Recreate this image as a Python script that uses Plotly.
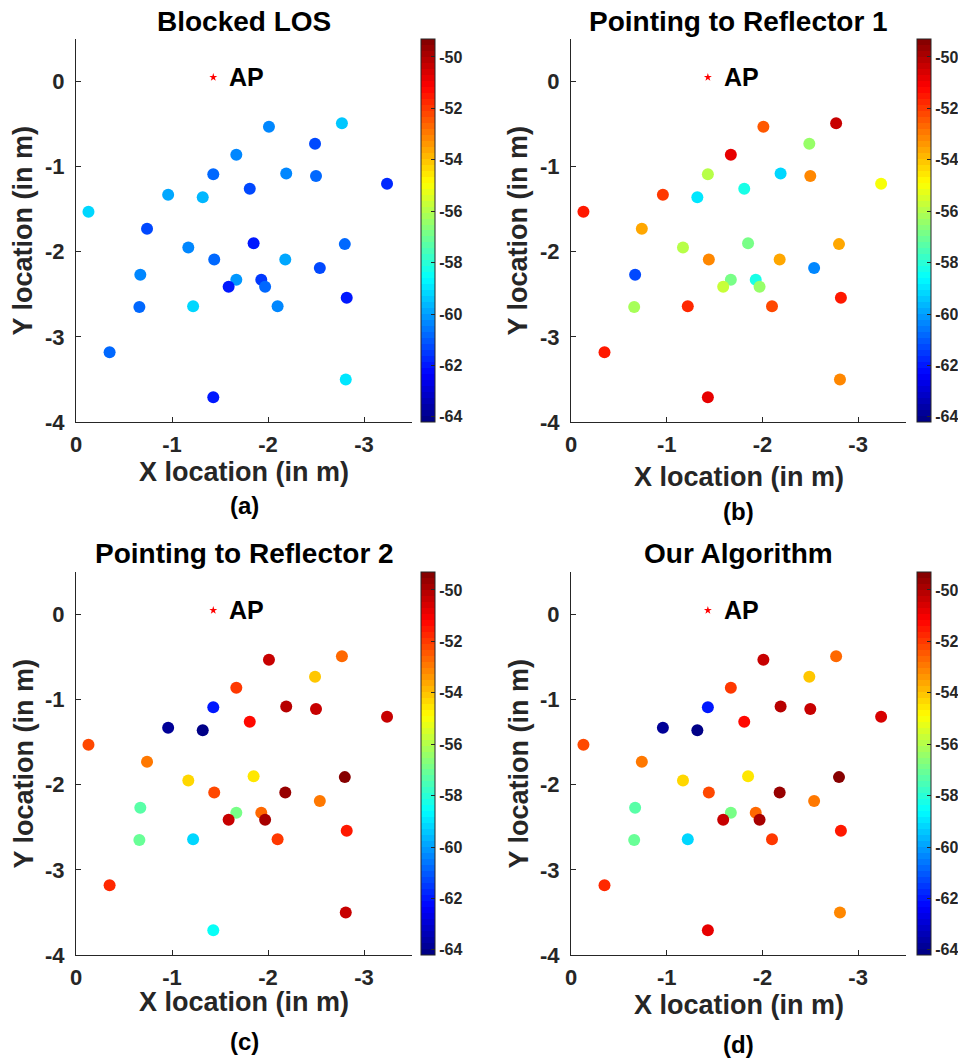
import plotly.graph_objects as go

# ---------------- data ----------------
x_loc = [-2.01, -2.77, -2.49, -1.67, -1.43, -2.19, -2.50, -3.24, -1.81, -0.96,
         -1.32, -0.13, -0.74, -1.85, -2.80, -1.17, -1.44, -2.18, -2.54, -0.67,
         -1.67, -1.93, -1.59, -1.97, -0.66, -1.22, -2.10, -2.82, -0.35, -2.81, -1.43]
y_loc = [-0.53, -0.49, -0.73, -0.86, -1.09, -1.08, -1.11, -1.20, -1.26, -1.33,
         -1.36, -1.53, -1.73, -1.90, -1.91, -1.95, -2.09, -2.09, -2.19, -2.27,
         -2.33, -2.33, -2.41, -2.41, -2.65, -2.64, -2.64, -2.54, -3.18, -3.50, -3.71]

rss_blocked = [-60.3, -59.4, -61.4, -60.3, -60.8, -60.3, -60.8, -61.7, -61.2, -59.8,
               -59.7, -59.1, -61.4, -62.0, -60.8, -60.3, -60.9, -59.8, -61.2, -60.4,
               -60.2, -61.5, -62.1, -60.8, -60.8, -59.2, -60.3, -62.0, -60.9, -58.9, -62.0]
rss_reflector1 = [-52.5, -50.4, -56.4, -50.8, -55.9, -59.3, -53.1, -55.1, -58.2, -52.0,
                  -58.9, -51.5, -53.6, -56.9, -53.6, -55.9, -53.1, -53.5, -60.3, -61.4,
                  -56.9, -58.2, -55.6, -56.4, -56.1, -51.7, -52.3, -51.4, -51.4, -53.2, -50.8]
rss_reflector2 = [-50.4, -52.6, -54.1, -52.0, -62.1, -50.0, -50.3, -50.4, -51.2, -63.9,
                  -64.1, -52.1, -52.8, -54.5, -49.4, -54.2, -52.3, -49.6, -52.8, -57.4,
                  -56.8, -52.6, -50.3, -49.8, -57.0, -59.1, -52.0, -51.4, -51.7, -50.3, -58.5]
rss_ours = [-50.4, -52.6, -54.1, -52.0, -62.1, -50.0, -50.3, -50.5, -51.2, -63.9,
            -64.1, -52.1, -52.8, -54.6, -49.4, -54.4, -52.3, -49.6, -52.8, -57.4,
            -56.8, -52.6, -50.3, -49.8, -57.0, -59.1, -52.0, -51.4, -51.7, -53.2, -50.8]

ap_x = [-1.43]
ap_y = [0.05]

panel_titles = ["Blocked LOS", "Pointing to Reflector 1", "Pointing to Reflector 2", "Our Algorithm"]
panel_tags = ["(a)", "(b)", "(c)", "(d)"]
panel_values = [rss_blocked, rss_reflector1, rss_reflector2, rss_ours]

x_ticks = [0, -1, -2, -3]
y_ticks = [0, -1, -2, -3, -4]
cbar_ticks = [-64, -62, -60, -58, -56, -54, -52, -50]
c_min, c_max = -64.2, -49.3

# ---------------- style ----------------
OFF = 8                      # default page body margin of the browser
W, H = 966 - OFF, 1061 - OFF
FONT = "Liberation Sans"
GRAY = "#262626"


def jet(t):
    r = min(max(1.5 - abs(4 * t - 3), 0), 1)
    g = min(max(1.5 - abs(4 * t - 2), 0), 1)
    b = min(max(1.5 - abs(4 * t - 1), 0), 1)
    return "rgb(%d,%d,%d)" % (round(r * 255), round(g * 255), round(b * 255))


N = 64
jet_scale = []
for i in range(N):
    c = jet((i + 0.5) / N)
    jet_scale.append([i / N, c])
    jet_scale.append([(i + 1) / N, c])

# page-pixel geometry of each panel: axes left, right, top, bottom, colorbar left,
# x-title y, tag y, y-title x, title y
geo = [
    dict(l=76, r=412, t=39, b=422, cb=421, xt=472, tag=506, yt=23, tt=22),
    dict(l=571, r=906, t=39, b=422, cb=917, xt=477, tag=511, yt=518, tt=22),
    dict(l=76, r=412, t=572, b=955, cb=421, xt=1002, tag=1041, yt=23, tt=553),
    dict(l=571, r=906, t=572, b=955, cb=917, xt=1005, tag=1044, yt=518, tt=553),
]


def px(p):
    return (p - OFF) / W


def py(p):
    return 1 - (p - OFF) / H


fig = go.Figure()
annotations = []
layout = dict(
    width=W, height=H, margin=dict(l=0, r=0, t=0, b=0, autoexpand=False),
    paper_bgcolor="white", plot_bgcolor="white", showlegend=False,
    font=dict(family=FONT, color=GRAY),
)

for i, g in enumerate(geo):
    k = "" if i == 0 else str(i + 1)
    xa, ya = "x" + k, "y" + k
    fig.add_trace(go.Scatter(
        x=x_loc, y=y_loc, mode="markers", xaxis=xa, yaxis=ya,
        marker=dict(size=12, color=panel_values[i], coloraxis="coloraxis" + k,
                    line=dict(width=0)),
        hoverinfo="x+y+text", text=[str(v) for v in panel_values[i]],
    ))
    fig.add_trace(go.Scatter(
        x=ap_x, y=ap_y, mode="markers", xaxis=xa, yaxis=ya,
        marker=dict(size=6, color="red", symbol="star", line=dict(width=0)),
    ))
    layout["xaxis" + k] = dict(
        domain=[px(g["l"]), px(g["r"])], anchor=ya, range=[0, -3.5],
        showline=True, linecolor=GRAY, linewidth=1, mirror=False,
        showgrid=False, zeroline=False, ticks="inside", ticklen=5, tickcolor=GRAY,
        tickvals=x_ticks, ticktext=["%d" % v if v == 0 else "-%d" % abs(v) for v in x_ticks],
        tickfont=dict(family=FONT, size=22, color=GRAY, weight="bold"),
        ticklabelstandoff=3,
    )
    layout["yaxis" + k] = dict(
        domain=[py(g["b"]), py(g["t"])], anchor=xa, range=[-4, 0.5],
        showline=True, linecolor=GRAY, linewidth=1, mirror=False,
        showgrid=False, zeroline=False, ticks="inside", ticklen=5, tickcolor=GRAY,
        tickvals=y_ticks, ticktext=["%d" % v if v == 0 else "-%d" % abs(v) for v in y_ticks],
        tickfont=dict(family=FONT, size=22, color=GRAY, weight="bold"),
        ticklabelstandoff=6,
    )
    layout["coloraxis" + k] = dict(
        colorscale=jet_scale, cmin=c_min, cmax=c_max,
        colorbar=dict(
            x=px(g["cb"]), xanchor="left", xpad=0, ypad=0, thickness=14,
            lenmode="fraction", len=(g["b"] - g["t"]) / H,
            y=py(g["t"]), yanchor="top",
            outlinecolor=GRAY, outlinewidth=1,
            ticks="inside", ticklen=4, tickcolor=GRAY,
            tickvals=cbar_ticks, ticktext=["-%d" % abs(v) for v in cbar_ticks],
            tickfont=dict(family=FONT, size=16, color=GRAY, weight="bold"),
        ),
    )
    cx = px((g["l"] + g["r"]) / 2)
    annotations.append(dict(
        text=panel_titles[i], xref="paper", yref="paper", x=cx, y=py(g["tt"]),
        xanchor="center", yanchor="middle", showarrow=False, borderpad=0,
        font=dict(family=FONT, size=28, color="black", weight="bold")))
    annotations.append(dict(
        text="X location (in m)", xref="paper", yref="paper", x=cx, y=py(g["xt"]),
        xanchor="center", yanchor="middle", showarrow=False, borderpad=0,
        font=dict(family=FONT, size=27, color=GRAY, weight="bold")))
    annotations.append(dict(
        text=panel_tags[i], xref="paper", yref="paper", x=cx, y=py(g["tag"]),
        xanchor="center", yanchor="middle", showarrow=False, borderpad=0,
        font=dict(family=FONT, size=24, color="black", weight="bold")))
    annotations.append(dict(
        text="Y location (in m)", xref="paper", yref="paper", x=px(g["yt"]),
        y=py((g["t"] + g["b"]) / 2), textangle=-90,
        xanchor="center", yanchor="middle", showarrow=False, borderpad=0,
        font=dict(family=FONT, size=27, color=GRAY, weight="bold")))
    annotations.append(dict(
        text="AP", xref=xa, yref=ya, x=ap_x[0], y=ap_y[0], xanchor="left",
        yanchor="middle", xshift=14, showarrow=False,
        font=dict(family=FONT, size=25, color="black", weight="bold")))

layout["annotations"] = annotations
fig.update_layout(**layout)
fig.write_html("out.html")
